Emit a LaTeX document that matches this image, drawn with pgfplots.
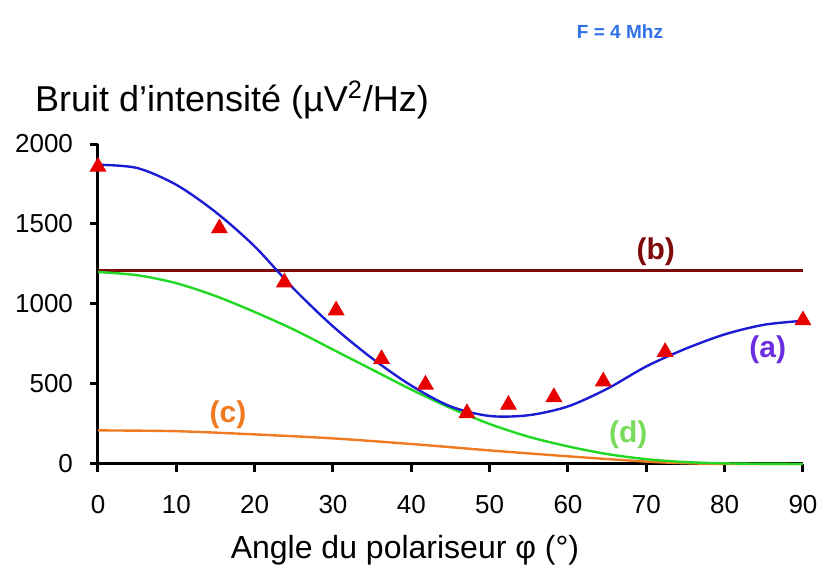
\documentclass[border=0pt]{standalone}
\usepackage{pgfplots}
\pgfplotsset{compat=1.18}
\usetikzlibrary{calc}
\usepackage{fontspec}
\setmainfont{Liberation Sans}

\definecolor{curveA}{HTML}{1C1CD4}
\definecolor{curveB}{HTML}{7F0A0A}
\definecolor{curveC}{HTML}{F07A22}
\definecolor{curveD}{HTML}{22D822}
\definecolor{labA}{HTML}{6A2EE0}
\definecolor{labD}{HTML}{78DC5A}
\definecolor{fcol}{HTML}{2F6FE8}
\definecolor{pts}{HTML}{E80000}

\begin{document}
\begin{tikzpicture}
\begin{axis}[
    scale only axis,
    width=352.5pt, height=160pt,
    xmin=0, xmax=90, ymin=0, ymax=2000,
    axis x line=bottom, axis y line=left,
    axis line style={-, line width=1.5pt},
    xtick={0,10,...,90}, ytick={0,500,...,2000},
    tick align=outside, major tick length=4pt,
    tick style={line width=1.5pt, black},
    ticklabel style={font=\fontsize{13}{15}\selectfont},
    xticklabel style={yshift=-8pt},
    yticklabel style={xshift=-5pt},
    /pgf/number format/assume math mode=true,
    /pgf/number format/set thousands separator={},
    clip=false,
]
\coordinate (O) at (axis cs:0,0);

% (b)
\addplot[curveB, line width=1.2pt] coordinates {(0,1210) (90,1210)};
% (c)
\addplot[curveC, line width=1.2pt, smooth] coordinates {
(0,210) (10,205) (20,185) (30,160) (40,125) (50,85) (60,48) (70,15) (75,5) (80,0) (90,0)};
% (d)
\addplot[curveD, line width=1.2pt, smooth] coordinates {
(0,1200) (5,1180) (10,1130) (15,1050) (20,950) (25,840) (30,715) (35,590) (40,465)
(45,350) (50,250) (55,170) (60,110) (65,62) (70,30) (75,12) (80,4) (85,1) (90,0)};
% (a)
\addplot[curveA, line width=1.2pt, smooth] coordinates {
(0,1870) (5,1850) (10,1745) (15,1575) (20,1360) (25,1095) (30,860) (35,660) (40,490)
(45,360) (50,300) (55,305) (60,360) (65,470) (70,610) (75,720) (80,810) (85,870) (90,895)};
% mesures
\addplot[only marks, mark=triangle*, mark size=4.5pt, color=pts] coordinates {
(0,1858) (15.5,1473) (23.8,1135) (30.4,960) (36.2,656) (41.8,496) (47.1,318)
(52.4,370) (58.2,418) (64.5,516) (72.4,700) (90,898)};

\node[curveB, font=\fontsize{15}{17}\selectfont\bfseries] at (axis cs:71.2,1327) {(b)};
\node[labA, font=\fontsize{15}{17}\selectfont\bfseries] at (axis cs:85.5,712) {(a)};
\node[curveC, font=\fontsize{15}{17}\selectfont\bfseries] at (axis cs:16.6,306) {(c)};
\node[labD, font=\fontsize{15}{17}\selectfont\bfseries] at (axis cs:67.7,181) {(d)};
\end{axis}

\node[anchor=west, font=\fontsize{18}{21}\selectfont] at ($(O)+(-35pt,182pt)$) {Bruit d'intensité (µV\textsuperscript{2}/Hz)};
\node[fcol, font=\fontsize{9.5}{11}\selectfont\bfseries] at ($(O)+(261pt,216pt)$) {F = 4 Mhz};
\node[font=\fontsize{16}{19}\selectfont] at ($(O)+(153.5pt,-43pt)$) {Angle du polariseur φ (°)};
\path ($(O)+(-49pt,-57pt)$) rectangle ++(413.5pt,289pt);
\end{tikzpicture}
\end{document}
